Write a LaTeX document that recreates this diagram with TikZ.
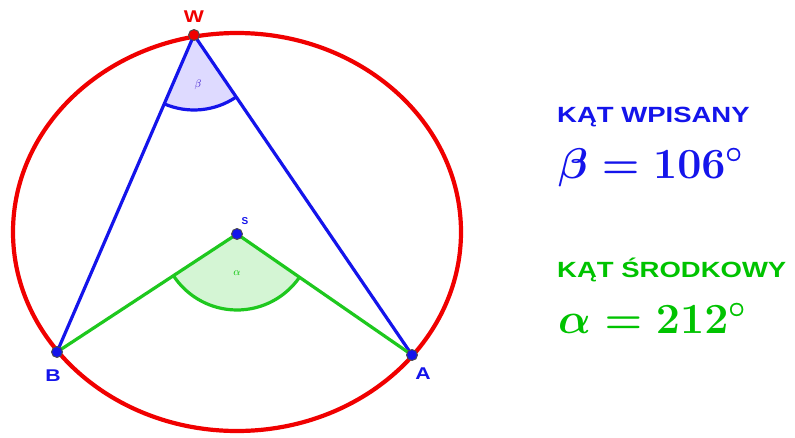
\RequirePackage{fix-cm}
\documentclass[tikz,border=0pt]{standalone}
\usepackage{fontspec}
\usetikzlibrary{calc}
\newfontfamily\lsans{Liberation Sans}
\definecolor{cred}{RGB}{240,0,0}
\definecolor{cblue}{RGB}{20,20,235}
\definecolor{cgreen}{RGB}{30,200,30}
\definecolor{tgreen}{RGB}{0,195,0}
\definecolor{lav}{RGB}{222,218,255}
\definecolor{lgreen}{RGB}{212,245,212}
\tikzset{
  pt/.style={circle,inner sep=0pt,minimum size=11pt,draw=black!70,line width=0.9pt},
  lbl/.style={font=\lsans\bfseries\fontsize{17}{19}\selectfont,inner sep=0pt},
  small/.style={font=\fontsize{11}{12}\selectfont,inner sep=0pt},
  head/.style={font=\lsans\bfseries\fontsize{22}{24}\selectfont,inner sep=0pt,anchor=base west},
  formula/.style={font=\fontsize{43}{50}\selectfont\boldmath,inner sep=0pt,anchor=base west}
}
\begin{document}
\begin{tikzpicture}[x=1pt,y=-1pt]
\useasboundingbox (0,0) rectangle (795,437);
\fill[white] (0,0) rectangle (795,437);
\coordinate (W) at (194,35);
\coordinate (B) at (57,352);
\coordinate (A) at (412,355);
\coordinate (S) at (237,234);
% circle
\draw[cred,line width=4.2pt] (237,232) ellipse [x radius=224, y radius=199];
% sectors
\fill[lav] (W) -- ++(55.7:75) arc[start angle=55.7, end angle=113.4, radius=75] -- cycle;
\fill[lgreen] (S) -- ++(34.7:76) arc[start angle=34.7, end angle=146.8, radius=76] -- cycle;
% lines
\draw[cblue,line width=3.2pt] (B) -- (W) -- (A);
\draw[cgreen,line width=3.2pt] (B) -- (S) -- (A);
% arcs
\draw[cblue,line width=3.2pt] ($(W)+(55.7:75)$) arc[start angle=55.7, end angle=113.4, radius=75];
\draw[cgreen,line width=3.2pt] ($(S)+(34.7:76)$) arc[start angle=34.7, end angle=146.8, radius=76];
% points
\node[pt,fill=cred] (w) at (W) {};
\node[pt,fill=cblue] (b) at (B) {};
\node[pt,fill=cblue] (a) at (A) {};
\node[pt,fill=cblue] (s) at (S) {};
% labels
\node[lbl,text=cred] (lw) at (194,17) {\scalebox{1.25}[1]{W}};
\node[lbl,text=cblue] (lb) at (53,376) {\scalebox{1.25}[1]{B}};
\node[lbl,text=cblue] (la) at (423,374) {\scalebox{1.25}[1]{A}};
\node[small,text=cblue,font=\lsans\bfseries\fontsize{10}{11}\selectfont] (ls) at (245,221) {S};
\node[small,text=cblue!70!violet] (lbeta) at (198,85) {$\beta$};
\node[small,text=tgreen] (lalpha) at (237,273) {$\alpha$};
% right texts
\node[head,text=cblue] (h1) at (557,122) {\scalebox{1.25}[1]{KĄT WPISANY}};
\node[formula,text=cblue] (f1) at (558,178) {$\beta=106^\circ$};
\node[head,text=tgreen] (h2) at (557,277) {\scalebox{1.25}[1]{KĄT ŚRODKOWY}};
\node[formula,text=tgreen] (f2) at (558,333) {$\alpha=212^\circ$};
\end{tikzpicture}
\end{document}
